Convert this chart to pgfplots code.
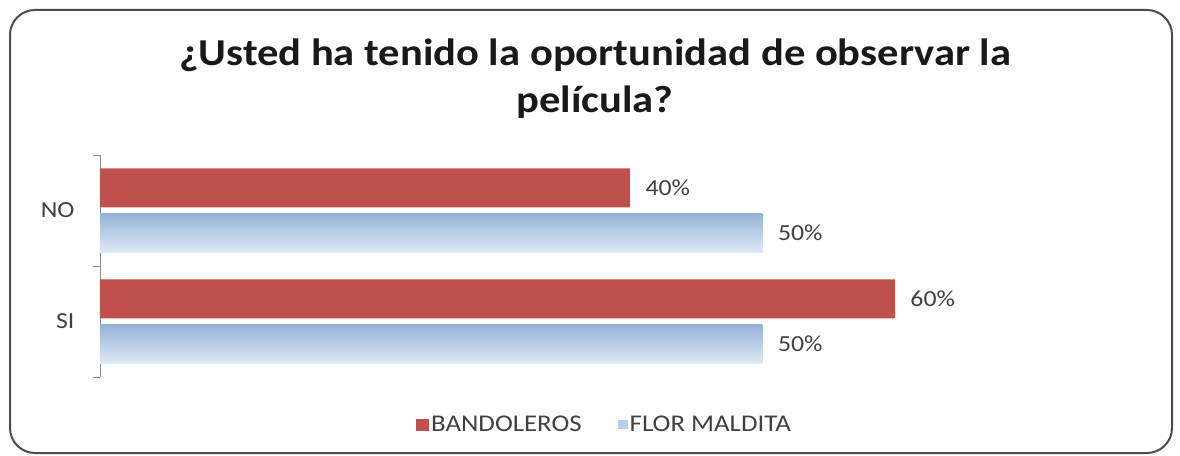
\documentclass[border=0pt]{standalone}
\usepackage{fontspec}
\setmainfont{Carlito}[FakeStretch=1.12]
\usepackage{pgfplots}
\pgfplotsset{compat=1.18}
\definecolor{redbar}{HTML}{C0504D}
\definecolor{bluetop}{HTML}{95B3D7}
\definecolor{bluebot}{HTML}{E2EAF5}
\definecolor{bluelegend}{HTML}{B9CDE5}
\definecolor{txt}{HTML}{404040}
\begin{document}
\begin{tikzpicture}[x=1pt,y=1pt]
\useasboundingbox (0,0) rectangle (1180,455);
\draw[line width=2pt, color=black!70, rounded corners=25pt] (10,2) rectangle (1172,445);
\node[font=\fontsize{38}{44}\selectfont\bfseries, text=black!90, anchor=base] at (595,389) {¿Usted ha tenido la oportunidad de observar la};
\node[font=\fontsize{38}{44}\selectfont\bfseries, text=black!90, anchor=base] at (595,342) {película?};
\begin{axis}[
  at={(100pt,78pt)}, anchor=south west, scale only axis,
  width=1060pt, height=222pt,
  xbar, bar width=39pt,
  xmin=0, xmax=80, ymin=-0.5, ymax=1.5,
  axis x line=none, axis y line*=left,
  y axis line style={draw=black!45, line width=0.8pt},
  ytick={0,1}, yticklabels={SI,NO},
  major tick length=0pt,
  /pgf/number format/assume math mode=true,
  yticklabel style={font=\fontsize{23}{26}\selectfont, text=txt, xshift=-22pt},
  extra y ticks={-0.5,0.5,1.5}, extra y tick labels={},
  extra y tick style={major tick length=7pt, tick align=outside, tick style={draw=black!45, line width=0.8pt}},
  nodes near coords={\pgfmathprintnumber{\pgfplotspointmeta}\%},
  nodes near coords style={font=\fontsize{23}{26}\selectfont, text=txt, anchor=west, xshift=12pt},
  legend style={at={(0.476,-0.216)}, anchor=center, draw=none, fill=none,
    font=\fontsize{24}{26}\selectfont, text=txt, legend columns=2,
    /tikz/every even column/.append style={column sep=34pt}},
]
\addplot[fill=redbar, draw=none, bar shift=22.5pt,
  legend image code/.code={\fill[redbar] (-6pt,-6pt) rectangle (7pt,6pt);}] coordinates {(40,1) (60,0)};
\addplot[draw=none, shade, top color=bluetop, bottom color=bluebot, bar shift=-22.5pt,
  legend image code/.code={\pgfpathrectangle{\pgfpoint{-4pt}{-4pt}}{\pgfpoint{10pt}{9pt}}\pgfsetfillcolor{bluelegend}\pgfusepath{fill}}] coordinates {(50,1)};
\addplot[draw=none, shade, top color=bluetop, bottom color=bluebot, bar shift=-22.5pt, forget plot] coordinates {(50,0)};
\legend{BANDOLEROS, FLOR MALDITA}
\end{axis}
\end{tikzpicture}
\end{document}
